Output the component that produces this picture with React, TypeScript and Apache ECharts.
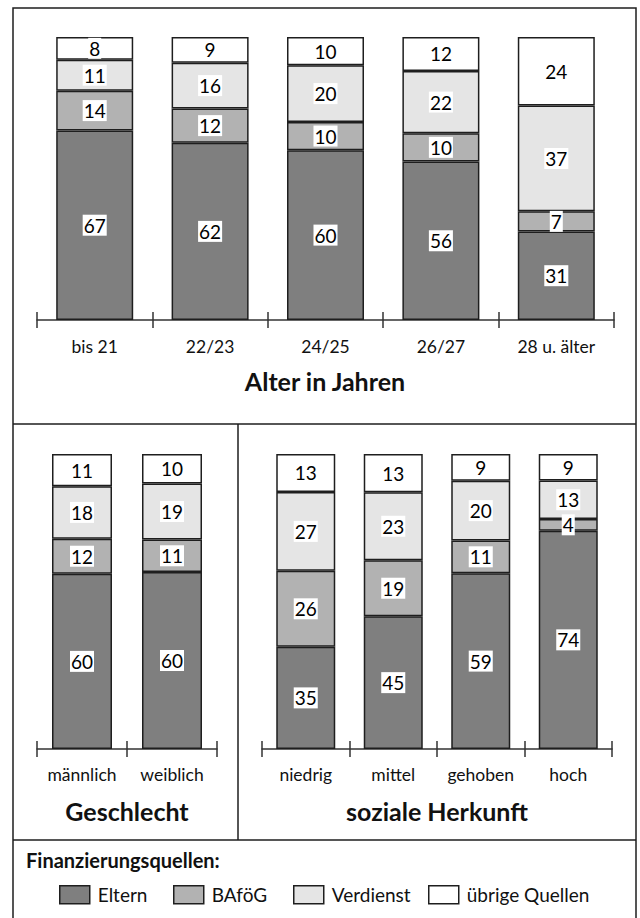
import React, { useEffect, useRef } from "react";
import * as echarts from "echarts";

const SERIES_NAMES = ["Eltern", "BAföG", "Verdienst", "übrige Quellen"];
const COLORS = ["#7f7f7f", "#b2b2b2", "#e5e5e5", "#ffffff"];

const ageCategories = ["bis 21", "22/23", "24/25", "26/27", "28 u. älter"];
const ageEltern = [67, 62, 60, 56, 31];
const ageBafoeg = [14, 12, 10, 10, 7];
const ageVerdienst = [11, 16, 20, 22, 37];
const ageUebrige = [8, 9, 10, 12, 24];

const sexCategories = ["männlich", "weiblich"];
const sexEltern = [60, 60];
const sexBafoeg = [12, 11];
const sexVerdienst = [18, 19];
const sexUebrige = [11, 10];

const herkunftCategories = ["niedrig", "mittel", "gehoben", "hoch"];
const herkunftEltern = [35, 45, 59, 74];
const herkunftBafoeg = [26, 19, 11, 4];
const herkunftVerdienst = [27, 23, 20, 13];
const herkunftUebrige = [13, 13, 9, 9];

const panelTitles = ["Alter in Jahren", "Geschlecht", "soziale Herkunft"];
const legendTitle = "Finanzierungsquellen:";

const FONT = 'Lato, "Open Sans", "DejaVu Sans", sans-serif';
const LINE = "#1e1e1e";

type Panel = {
  cats: string[];
  groups: number[][];
  grid: { left: number; top: number; width: number; height: number };
  barWidth: number;
  labelMargin: number;
};

const panels: Panel[] = [
  {
    cats: ageCategories,
    groups: [ageEltern, ageBafoeg, ageVerdienst, ageUebrige],
    grid: { left: 37, top: 37, width: 577, height: 283 },
    barWidth: 77,
    labelMargin: 17,
  },
  {
    cats: sexCategories,
    groups: [sexEltern, sexBafoeg, sexVerdienst, sexUebrige],
    grid: { left: 37, top: 454, width: 180, height: 295 },
    barWidth: 60,
    labelMargin: 16,
  },
  {
    cats: herkunftCategories,
    groups: [herkunftEltern, herkunftBafoeg, herkunftVerdienst, herkunftUebrige],
    grid: { left: 262, top: 454, width: 350, height: 295 },
    barWidth: 59,
    labelMargin: 16,
  },
];

function buildOption() {
  const grids: any[] = [];
  const xAxes: any[] = [];
  const yAxes: any[] = [];
  const series: any[] = [];

  panels.forEach((p, gi) => {
    grids.push({ ...p.grid, containLabel: false });
    xAxes.push({
      type: "category",
      gridIndex: gi,
      position: "bottom",
      data: p.cats,
      axisLine: { show: true, lineStyle: { color: "#333", width: 1.5 } },
      axisTick: { show: true, inside: false, length: 8, lineStyle: { color: "#333", width: 1.5 } },
      axisLabel: { color: "#111", fontSize: 17.5, fontFamily: FONT, margin: p.labelMargin },
      splitLine: { show: false },
    });
    xAxes.push({
      type: "category",
      gridIndex: gi,
      position: "bottom",
      offset: 0,
      data: p.cats,
      axisLine: { show: false },
      axisTick: { show: true, inside: true, length: 8, lineStyle: { color: "#333", width: 1.5 } },
      axisLabel: { show: false },
      splitLine: { show: false },
    });
    yAxes.push({ type: "value", gridIndex: gi, min: 0, max: 100, show: false });

    const sums = p.cats.map((_, i) => p.groups.reduce((s, g) => s + g[i], 0));
    p.groups.forEach((raw, si) => {
      series.push({
        name: SERIES_NAMES[si],
        type: "bar",
        stack: "s" + gi,
        xAxisIndex: gi * 2,
        yAxisIndex: gi,
        barWidth: p.barWidth,
        data: raw.map((v, i) => (v * 100) / sums[i]),
        itemStyle: { color: COLORS[si], borderColor: LINE, borderWidth: 1.5 },
        label: {
          show: true,
          position: "inside",
          formatter: (pp: any) => String(raw[pp.dataIndex]),
          color: "#000",
          fontSize: 19,
          fontFamily: FONT,
          backgroundColor: "#ffffff",
          padding: [1, 1, 0, 1],
          lineHeight: 20,
        },
        emphasis: { disabled: true },
      });
    });
  });

  const legendLefts = [59, 173, 293, 428];
  const legends = SERIES_NAMES.map((n, i) => ({
    data: [n],
    left: legendLefts[i],
    top: 885,
    padding: 0,
    itemWidth: 30,
    itemHeight: 18,
    icon: "rect",
    selectedMode: false,
    itemStyle: { borderColor: LINE, borderWidth: 1.5 },
    textStyle: { fontSize: 19, fontFamily: FONT, color: "#111", padding: [0, 0, 0, 3] },
  }));

  const titleStyle = { fontSize: 25, fontWeight: "bold", fontFamily: FONT, fill: "#111" };
  const graphic: any[] = [
    {
      type: "rect",
      shape: { x: 13, y: 8, width: 623, height: 930 },
      style: { fill: "none", stroke: LINE, lineWidth: 1.5 },
      silent: true,
    },
    { type: "line", shape: { x1: 13, y1: 424, x2: 636, y2: 424 }, style: { stroke: LINE, lineWidth: 1.5 } },
    { type: "line", shape: { x1: 238, y1: 424, x2: 238, y2: 840 }, style: { stroke: LINE, lineWidth: 1.5 } },
    { type: "line", shape: { x1: 13, y1: 840, x2: 636, y2: 840 }, style: { stroke: LINE, lineWidth: 1.5 } },
    {
      type: "text",
      x: 325,
      y: 381,
      style: { ...titleStyle, text: panelTitles[0], align: "center", verticalAlign: "middle" },
    },
    {
      type: "text",
      x: 127,
      y: 811,
      style: { ...titleStyle, text: panelTitles[1], align: "center", verticalAlign: "middle" },
    },
    {
      type: "text",
      x: 437,
      y: 811,
      style: { ...titleStyle, text: panelTitles[2], align: "center", verticalAlign: "middle" },
    },
    {
      type: "text",
      x: 26,
      y: 860,
      style: {
        text: legendTitle,
        fontSize: 20,
        fontWeight: "bold",
        fontFamily: FONT,
        fill: "#111",
        align: "left",
        verticalAlign: "middle",
      },
    },
  ];

  return {
    animation: false,
    backgroundColor: "#ffffff",
    grid: grids,
    xAxis: xAxes,
    yAxis: yAxes,
    series,
    legend: legends,
    graphic,
  };
}

export default function App() {
  const ref = useRef<HTMLDivElement>(null);
  useEffect(() => {
    if (!ref.current) return;
    const chart = echarts.init(ref.current, null, { renderer: "svg" });
    chart.setOption(buildOption() as any);
    return () => chart.dispose();
  }, []);
  return (
    <div
      ref={ref}
      style={{ position: "absolute", left: 0, top: 0, width: 640, height: 918, background: "#fff" }}
    />
  );
}
